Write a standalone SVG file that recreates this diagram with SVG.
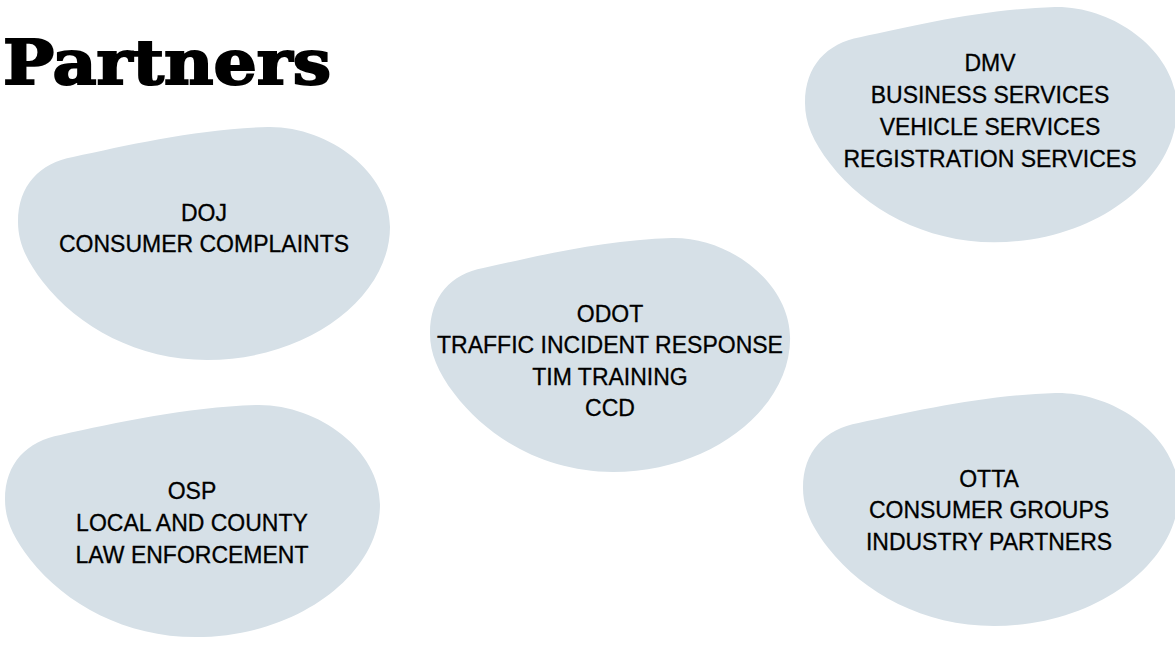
<svg xmlns="http://www.w3.org/2000/svg" xmlns:xlink="http://www.w3.org/1999/xlink" width="1175" height="645" viewBox="0 0 1175 645">
  <style>
    .blob { fill: #D6E0E7; }
    .label { font-family: "Liberation Sans", Arial, sans-serif; font-size: 23px; fill: #000; stroke: #000; stroke-width: 0.3px; text-anchor: middle; }
    .title { font-family: "DejaVu Serif", "Liberation Serif", serif; font-weight: bold; font-size: 62px; fill: #000; stroke: #000; stroke-width: 2px; stroke-linejoin: miter; }
  </style>
  <defs>
    <!-- shared pebble outline, 372 x 233 box -->
    <path id="pebble" d="M 0,95 C 0,58 22,36 55,30 C 110,18 180,2 250,0 C 310,-1 372,45 372,100 C 372,170 290,233 189,233 C 120,233 60,200 25,155 C 8,133 0,115 0,95 Z"/>
  </defs>
  <rect width="1175" height="645" fill="#FFFFFF"/>

  <text class="title" x="3" y="84" textLength="328" lengthAdjust="spacingAndGlyphs">Partners</text>

  <g id="connectors"/>

  <g id="node-doj">
    <use xlink:href="#pebble" class="blob" transform="translate(18,127)"/>
    <text class="label" x="204" y="221">DOJ</text>
    <text class="label" x="204" y="252">CONSUMER COMPLAINTS</text>
  </g>

  <g id="node-odot">
    <use xlink:href="#pebble" class="blob" transform="translate(430,238) scale(0.968,1.004)"/>
    <text class="label" x="610" y="322">ODOT</text>
    <text class="label" x="610" y="353">TRAFFIC INCIDENT RESPONSE</text>
    <text class="label" x="610" y="385">TIM TRAINING</text>
    <text class="label" x="610" y="416">CCD</text>
  </g>

  <g id="node-dmv">
    <use xlink:href="#pebble" class="blob" transform="translate(805,7) scale(1,1.01)"/>
    <text class="label" x="990" y="71">DMV</text>
    <text class="label" x="990" y="103">BUSINESS SERVICES</text>
    <text class="label" x="990" y="135">VEHICLE SERVICES</text>
    <text class="label" x="990" y="167">REGISTRATION SERVICES</text>
  </g>

  <g id="node-osp">
    <use xlink:href="#pebble" class="blob" transform="translate(5,405) scale(1.008,0.996)"/>
    <text class="label" x="192" y="499">OSP</text>
    <text class="label" x="192" y="531">LOCAL AND COUNTY</text>
    <text class="label" x="192" y="563">LAW ENFORCEMENT</text>
  </g>

  <g id="node-otta">
    <use xlink:href="#pebble" class="blob" transform="translate(803,393) scale(1.01,1)"/>
    <text class="label" x="989" y="487">OTTA</text>
    <text class="label" x="989" y="518">CONSUMER GROUPS</text>
    <text class="label" x="989" y="550">INDUSTRY PARTNERS</text>
  </g>
</svg>
